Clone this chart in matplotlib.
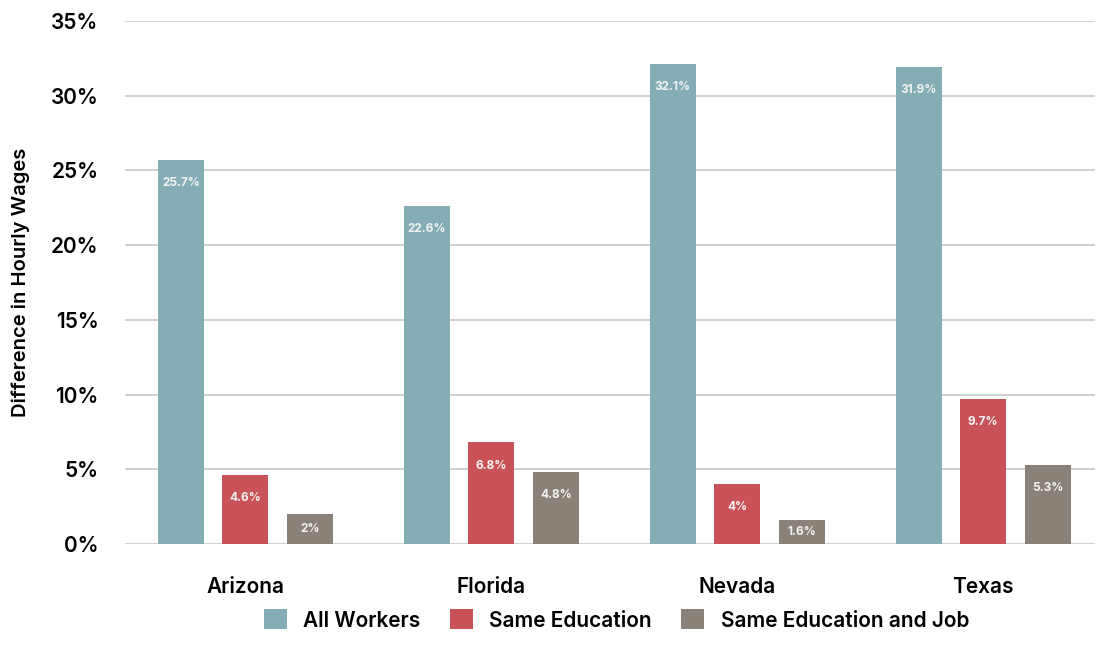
import matplotlib.pyplot as plt
import numpy as np

states = ["Arizona", "Florida", "Nevada", "Texas"]
all_workers = [25.7, 22.6, 32.1, 31.9]
same_edu = [4.6, 6.8, 4.0, 9.7]
same_edu_job = [2.0, 4.8, 1.6, 5.3]
series_names = ["All Workers", "Same Education", "Same Education and Job"]
colors = ["#84adb5", "#c95158", "#8a8279"]

plt.rcParams['font.family'] = ['Inter', 'DejaVu Sans']

fig = plt.figure(figsize=(11.01, 6.6), dpi=100)
ax = fig.add_axes([125/1101, (660-544)/660, (1095-125)/1101, (544-21)/660])

x = np.arange(len(states))
width = 0.187
pitch = 0.262
series = [all_workers, same_edu, same_edu_job]

def fmt(v):
    s = f"{v:.1f}"
    if s.endswith(".0"):
        s = s[:-2]
    return s + "%"

for i, (vals, name, c) in enumerate(zip(series, series_names, colors)):
    pos = x + (i - 1) * pitch
    ax.bar(pos, vals, width, color=c, label=name, zorder=3)
    for p, v in zip(pos, vals):
        # label sits near the top, but stays inside short bars
        ax.text(p, max(v - 1.55, v / 2), fmt(v), ha="center", va="center", color="#f2f2f2",
                fontsize=8.5, fontweight="bold", zorder=4)

ax.set_ylim(0, 35)
ax.set_xlim(-0.49, 3.455)
ax.set_yticks(range(0, 36, 5))
ax.set_yticklabels([f"{t}%" for t in range(0, 36, 5)])
ax.yaxis.grid(True, color="#c8c8c8", linewidth=1.2, zorder=0)
ax.set_axisbelow(True)
for s in ax.spines.values():
    s.set_visible(False)
ax.tick_params(axis="y", length=0, pad=19, labelsize=15)
ax.tick_params(axis="x", length=0, pad=24, labelsize=15)
for lbl in ax.get_yticklabels() + ax.get_xticklabels():
    lbl.set_fontweight("semibold")
ax.set_xticks(x)
ax.set_xticklabels(states)
ax.set_ylabel("Difference in Hourly Wages", fontsize=14.5, fontweight="semibold", labelpad=15)

leg = fig.legend(loc="center", bbox_to_anchor=(0.56, 1 - 620/660), ncol=3, frameon=False,
                 fontsize=15, handlelength=1.1, handleheight=1.1, columnspacing=1.4,
                 handletextpad=0.8)
for t in leg.get_texts():
    t.set_fontweight("semibold")

fig.savefig("out.png", dpi=100)
